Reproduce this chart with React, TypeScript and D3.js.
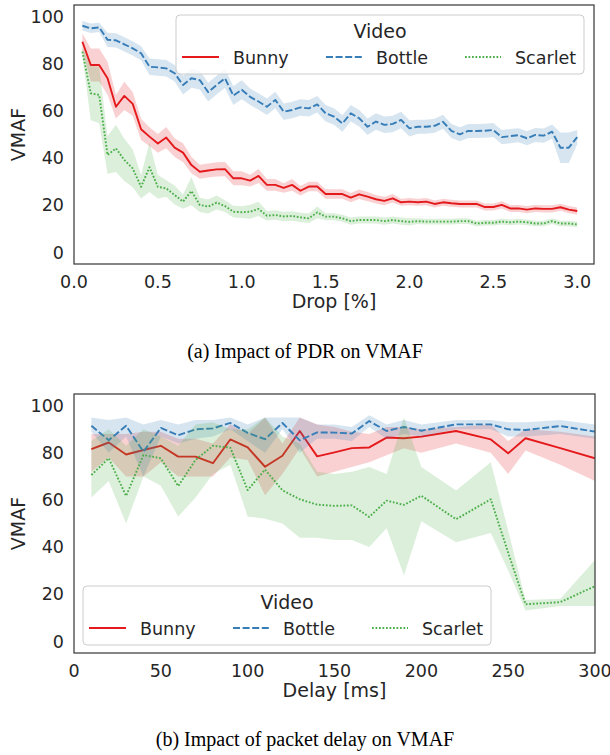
import React from 'react';
import * as d3 from 'd3';

const videos = ['Bunny', 'Bottle', 'Scarlet'];
const colors = ['#e41a1c', '#377eb8', '#4daf4a'];
const dashArr = ['none', '7,2.6', '1.75,1.75'];

// ---------- (a) Drop [%] ----------
const dropX = [0.05, 0.1, 0.15, 0.2, 0.25, 0.3, 0.35, 0.4, 0.45, 0.5, 0.55, 0.6, 0.65, 0.7, 0.75, 0.8, 0.85, 0.9, 0.95, 1.0,
  1.05, 1.1, 1.15, 1.2, 1.25, 1.3, 1.35, 1.4, 1.45, 1.5, 1.55, 1.6, 1.65, 1.7, 1.75, 1.8, 1.85, 1.9, 1.95, 2.0,
  2.05, 2.1, 2.15, 2.2, 2.25, 2.3, 2.35, 2.4, 2.45, 2.5, 2.55, 2.6, 2.65, 2.7, 2.75, 2.8, 2.85, 2.9, 2.95, 3.0];

const bunnyDrop = [89.4, 79.5, 79.5, 73.9, 61.8, 66.4, 63, 52.2, 49.1, 46.2, 48.7, 44.4, 42.3, 37, 34.2, 34.7, 35.2, 35.3, 31.4, 31.4,
  30.4, 32.4, 28.6, 28.6, 27.3, 28.6, 26.1, 27.9, 27.9, 24.7, 24.7, 24.7, 23.2, 24.6, 23.6, 22.5, 21.8, 22.9, 21.2, 21.5,
  21.2, 21.5, 20.5, 21.2, 20.8, 20.5, 20.5, 20.5, 19.2, 19.2, 20.1, 18.6, 18.6, 18.1, 18.6, 18.4, 18.4, 19.1, 18.1, 17.5];
const bunnyDropErr = [3.5, 7, 7, 7, 5, 6, 5, 4.5, 4, 4, 4.5, 4, 4, 3.5, 3, 3, 3, 3, 3, 3,
  2.5, 3, 2.5, 2.5, 2, 2.5, 2, 2, 2, 2, 2, 2, 2, 2, 2, 1.8, 1.8, 1.8, 1.5, 1.5,
  1.5, 1.5, 1.5, 1.5, 1.5, 1.5, 1.5, 1.5, 1.5, 1.5, 1.5, 1.5, 1.5, 1.5, 1.5, 1.5, 1.5, 1.5, 1.5, 1.5];

const bottleDrop = [96.2, 95.1, 95.5, 90.2, 90, 88.3, 86.6, 84.5, 78.8, 78.5, 78.1, 76, 71, 73.9, 73.1, 68, 71, 73.9, 66.5, 69,
  66, 64, 61.8, 64.7, 59.7, 60.4, 61.5, 61.1, 62.8, 59, 57.6, 54.7, 59, 56.9, 53.3, 55.5, 54.1, 54.5, 56.2, 52.6,
  53.3, 53.3, 53.7, 55.4, 51.5, 50.1, 51.5, 51.5, 51.6, 51.9, 48.9, 49.3, 49.7, 48.4, 49.8, 49.5, 51.2, 44.4, 44.4, 48.9];
const bottleDropErr = [2, 2, 2, 3, 3, 3, 3, 3, 3.5, 3.5, 3.5, 3.5, 4, 4, 4, 4, 4, 4, 4, 4,
  3.5, 3.5, 3.5, 3.5, 3.5, 3.5, 3.5, 3.5, 3.5, 3.5, 3.5, 3.5, 3.5, 3.5, 3.5, 3.5, 3.5, 3.5, 3.5, 3.5,
  3, 3, 3, 3, 3, 3, 3, 3, 3, 3, 3, 3, 3, 3, 3, 3, 3, 6.5, 6.5, 3];

const scarletDrop = [85.2, 67.5, 66.8, 41.3, 44.1, 39.2, 35.6, 27.8, 36.1, 27.8, 27.1, 24.3, 21.5, 26, 20.1, 19.4, 21.1, 19.6, 17.2, 17,
  17.2, 18.4, 15.5, 15.8, 15.2, 15.4, 14.8, 14.4, 16.9, 15.1, 15.1, 14.4, 13.2, 13.7, 13.7, 13.7, 13.2, 13.7, 13.2, 12.9,
  13.2, 13, 13, 13, 13, 13.2, 13.2, 12.2, 12.5, 12.5, 13, 12.7, 13, 12.7, 12.2, 12.2, 13.2, 12.2, 12.2, 11.8];
const scarletDropErr = [2, 11.5, 12, 8, 10, 9, 8, 5, 10.5, 5, 3.5, 4, 3, 6, 3, 3, 3, 2.5, 2.5, 2.5,
  3, 3, 2, 2, 2, 2, 2, 2, 2.5, 1.5, 1.5, 1.5, 1.5, 1.5, 1.5, 1.5, 1.5, 1.5, 1.5, 1.5,
  1.2, 1.2, 1.2, 1.2, 1.2, 1.2, 1.2, 1.2, 1.2, 1.2, 1.2, 1.2, 1.2, 1.2, 1.2, 1.2, 1.2, 1.2, 1.2, 1.2];

const dropTicks = [0, 0.5, 1.0, 1.5, 2.0, 2.5, 3.0];

// ---------- (b) Delay [ms] ----------
const delayX = [10, 20, 30, 40, 50, 60, 70, 80, 90, 100, 110, 120, 130, 140, 150, 160, 170, 180, 190, 200, 220, 240, 250, 260, 280, 300];

const bunnyDelay = [81.6, 84.4, 79.3, 81.2, 83, 78.4, 78.4, 75.6, 85.7, 82.3, 74.1, 78.8, 89.3, 78.5, 80.2, 82, 82.3, 86.5, 86.2, 86.9, 89.3, 85.7, 79.8, 86.2, 82, 77.7];
const bunnyDelayLo = [72, 78, 70, 70, 76, 70, 70, 70, 78, 77, 62, 71, 82, 70, 72, 74, 76, 79, 82, 80, 84, 80, 71, 81, 75, 68];
const bunnyDelayHi = [88, 88, 88, 89, 89, 86, 86, 84, 92, 88, 95, 84, 95, 92, 91, 89, 88, 91, 91, 90, 91, 92, 85, 90, 89, 87];

const bottleDelay = [91.5, 85.4, 91.5, 80.5, 90.6, 87.5, 90, 90.4, 92.7, 88.5, 85.8, 92.7, 85.3, 88.7, 88.6, 88.2, 93.5, 89.3, 91, 89.4, 92.1, 92.1, 90, 89.7, 91.4, 89];
const bottleDelayLo = [89, 80, 87, 70, 87, 84, 86, 87, 90, 85, 80, 90, 80, 86, 86, 85, 91, 86, 88, 87, 90, 90, 87, 87, 88, 86];
const bottleDelayHi = [95, 94, 95, 92, 94, 92, 94, 94, 95, 92, 95, 95, 95, 92, 92, 91, 96, 92, 94, 92, 94, 94, 93, 93, 94, 92];

const scarletDelay = [70.6, 77.7, 61.7, 79.1, 77.7, 65.9, 77, 83, 82.2, 64.2, 72.9, 64.1, 60.3, 58, 57.5, 57.7, 52.8, 59.7, 57.9, 61.8, 51.8, 60.3, 37.6, 15.7, 16.6, 23.4];
const scarletDelayLo = [61, 68, 50, 70, 66, 53, 61, 71, 75, 53, 52, 50, 44, 44, 43, 43, 40, 48, 28, 51, 42, 46, 30, 13, 15, 15];
const scarletDelayHi = [85, 90, 83, 90, 87, 83, 92, 93, 90, 90, 95, 87, 84, 72, 71, 72, 74, 71, 95, 74, 64, 76, 47, 17.5, 18, 34.5];

const delayTicks = [0, 50, 100, 150, 200, 250, 300];
const vmafTicks = [0, 20, 40, 60, 80, 100];

type Series = { mean: number[]; lo: number[]; hi: number[] };

const dropSeries: Series[] = [
  { mean: bunnyDrop, lo: bunnyDrop.map((v, i) => v - bunnyDropErr[i]), hi: bunnyDrop.map((v, i) => v + bunnyDropErr[i]) },
  { mean: bottleDrop, lo: bottleDrop.map((v, i) => v - bottleDropErr[i]), hi: bottleDrop.map((v, i) => v + bottleDropErr[i]) },
  { mean: scarletDrop, lo: scarletDrop.map((v, i) => v - scarletDropErr[i]), hi: scarletDrop.map((v, i) => v + scarletDropErr[i]) },
];
const delaySeries: Series[] = [
  { mean: bunnyDelay, lo: bunnyDelayLo, hi: bunnyDelayHi },
  { mean: bottleDelay, lo: bottleDelayLo, hi: bottleDelayHi },
  { mean: scarletDelay, lo: scarletDelayLo, hi: scarletDelayHi },
];

const FONT = "'DejaVu Sans', sans-serif";
const TXT = '#262626';

function Legend({ left, top }: { left: number; top: number }) {
  const lineX = [[6, 43], [150, 186], [289, 325]];
  const textX = [57, 200, 339];
  return (
    <g>
      <rect x={left} y={top} width={408} height={59} rx={4} ry={4} fill="#fff" fillOpacity={0.8} stroke="#cccccc" strokeWidth={1} />
      <text x={left + 204} y={top + 23} textAnchor="middle" fontSize={19} fill={TXT} fontFamily={FONT}>Video</text>
      {videos.map((v, i) => (
        <g key={v}>
          <line x1={left + lineX[i][0]} x2={left + lineX[i][1]} y1={top + 42} y2={top + 42}
            stroke={colors[i]} strokeWidth={1.9} strokeDasharray={dashArr[i]} />
          <text x={left + textX[i]} y={top + 48.5} fontSize={17.5} fill={TXT} fontFamily={FONT}>{v}</text>
        </g>
      ))}
    </g>
  );
}

function Panel(props: {
  id: string; x0: number; x1: number; y0: number; y1: number; xDomain: [number, number];
  xTicks: number[]; xFmt: (v: number) => string; xs: number[]; series: Series[]; xlabel: string;
  legendLeft: number; legendTop: number; caption: string; captionY: number;
}) {
  const { id, x0, x1, y0, y1, xDomain, xTicks, xFmt, xs, series, xlabel, legendLeft, legendTop, caption, captionY } = props;
  const xScale = d3.scaleLinear().domain(xDomain).range([x0, x1]);
  const yScale = d3.scaleLinear().domain([-5, 105]).range([y1, y0]);
  const line = d3.line<number>().x((_, i) => xScale(xs[i])).y((d) => yScale(d));
  const area = (s: Series) =>
    d3.area<number>().x((_, i) => xScale(xs[i])).y0((_, i) => yScale(s.lo[i])).y1((_, i) => yScale(s.hi[i]))(s.mean) || '';
  return (
    <g>
      <defs>
        <clipPath id={id}>
          <rect x={x0} y={y0} width={x1 - x0} height={y1 - y0} />
        </clipPath>
      </defs>
      <g clipPath={`url(#${id})`}>
        {series.map((s, i) => (
          <g key={i}>
            <path d={line(s.mean) || ''} fill="none" stroke={colors[i]} strokeWidth={1.9}
              strokeDasharray={dashArr[i]} strokeLinejoin="round" />
            <path d={area(s)} fill={colors[i]} fillOpacity={0.2} stroke="none" />
          </g>
        ))}
      </g>
      <rect x={x0} y={y0} width={x1 - x0} height={y1 - y0} fill="none" stroke="#444" strokeWidth={1.3} />
      {xTicks.map((t) => (
        <text key={t} x={xScale(t)} y={y1 + 23.5} textAnchor="middle" fontSize={17.5} fill={TXT} fontFamily={FONT}>{xFmt(t)}</text>
      ))}
      {vmafTicks.map((t) => (
        <text key={t} x={x0 - 10} y={yScale(t)} dy="0.36em" textAnchor="end" fontSize={17.5} fill={TXT} fontFamily={FONT}>{t}</text>
      ))}
      <text x={(x0 + x1) / 2} y={y1 + 44} textAnchor="middle" fontSize={19} fill={TXT} fontFamily={FONT}>{xlabel}</text>
      <text transform={`translate(18,${(y0 + y1) / 2}) rotate(-90)`} textAnchor="middle" dy="0.36em" fontSize={19} fill={TXT} fontFamily={FONT}>VMAF</text>
      <Legend left={legendLeft} top={legendTop} />
      <text x={305} y={captionY} textAnchor="middle" fontSize={20} fill="#000" fontFamily="'Liberation Serif', 'Times New Roman', serif">{caption}</text>
    </g>
  );
}

export default function App() {
  return (
    <svg width={610} height={755} viewBox="0 0 610 755" style={{ position: 'fixed', left: 0, top: 0, background: '#fff' }}>
      <rect x={0} y={0} width={610} height={755} fill="#fff" />
      <Panel id="clipA" x0={74} x1={594} y0={5} y1={264} xDomain={[0, 3.1]} xTicks={dropTicks}
        xFmt={(v) => v.toFixed(1)} xs={dropX} series={dropSeries} xlabel="Drop [%]"
        legendLeft={176} legendTop={15} caption="(a) Impact of PDR on VMAF" captionY={358} />
      <Panel id="clipB" x0={74} x1={595} y0={394} y1={653} xDomain={[0, 300]} xTicks={delayTicks}
        xFmt={(v) => String(v)} xs={delayX} series={delaySeries} xlabel="Delay [ms]"
        legendLeft={83} legendTop={586} caption="(b) Impact of packet delay on VMAF" captionY={746} />
    </svg>
  );
}
